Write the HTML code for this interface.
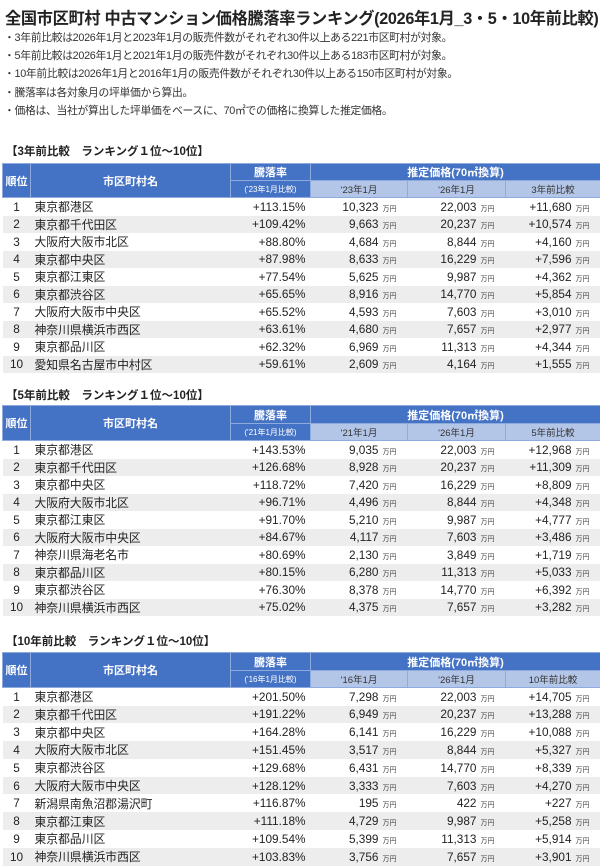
<!DOCTYPE html>
<html><head><meta charset="utf-8"><style>
body{margin:0;width:600px;height:865px;background:#fff;font-family:"Liberation Sans","Noto Sans CJK JP",sans-serif;color:#222;position:relative;overflow:hidden}
.t{position:absolute;left:5px;top:5px;font-size:16.2px;font-weight:bold;white-space:nowrap;letter-spacing:-0.3px}
.n{position:absolute;left:4px;font-size:10.8px;white-space:nowrap;color:#333;letter-spacing:-0.3px}
.l{position:absolute;left:6px;font-size:11.5px;font-weight:bold;white-space:nowrap}
table{position:absolute;left:2px;width:598px;border-collapse:collapse;table-layout:fixed;font-size:11.8px}
th{background:#4472c4;color:#fff;font-weight:bold;border:1px solid #8faadc;padding:0;font-size:11px}
th.s{background:#b4c6e7;color:#333;font-weight:normal;font-size:9.5px}
th.r{font-size:8px;font-weight:normal}
td{padding:0;height:17.5px;white-space:nowrap}
tr.g td{background:#ededed}
td.k{text-align:center}
td.c{padding-left:4px}
td.p{text-align:right;padding-right:5px}
td.v{text-align:right;padding-right:3px}
td.v span{font-size:7px;color:#444;display:inline-block;width:22px;text-align:left;padding-left:4px}
</style></head><body>
<div class="t">全国市区町村 中古マンション価格騰落率ランキング(2026年1月_3・5・10年前比較)</div>
<div class="n" style="top:29px">・3年前比較は2026年1月と2023年1月の販売件数がそれぞれ30件以上ある221市区町村が対象。</div>
<div class="n" style="top:47px">・5年前比較は2026年1月と2021年1月の販売件数がそれぞれ30件以上ある183市区町村が対象。</div>
<div class="n" style="top:65px">・10年前比較は2026年1月と2016年1月の販売件数がそれぞれ30件以上ある150市区町村が対象。</div>
<div class="n" style="top:84px">・騰落率は各対象月の坪単価から算出。</div>
<div class="n" style="top:102px">・価格は、当社が算出した坪単価をベースに、70㎡での価格に換算した推定価格。</div>

<div class="l" style="top:143px">【3年前比較　ランキング１位～10位】</div>
<table style="top:163px">
<colgroup><col style="width:28px"><col style="width:200px"><col style="width:80px"><col style="width:97px"><col style="width:98px"><col style="width:95px"></colgroup>
<tr style="height:17px"><th rowspan="2">順位</th><th rowspan="2">市区町村名</th><th>騰落率</th><th colspan="3">推定価格(70㎡換算)</th></tr>
<tr style="height:17px"><th class="r">('23年1月比較)</th><th class="s">'23年1月</th><th class="s">'26年1月</th><th class="s">3年前比較</th></tr>
<tr><td class="k">1</td><td class="c">東京都港区</td><td class="p">+113.15%</td><td class="v">10,323<span>万円</span></td><td class="v">22,003<span>万円</span></td><td class="v">+11,680<span>万円</span></td></tr>
<tr class="g"><td class="k">2</td><td class="c">東京都千代田区</td><td class="p">+109.42%</td><td class="v">9,663<span>万円</span></td><td class="v">20,237<span>万円</span></td><td class="v">+10,574<span>万円</span></td></tr>
<tr><td class="k">3</td><td class="c">大阪府大阪市北区</td><td class="p">+88.80%</td><td class="v">4,684<span>万円</span></td><td class="v">8,844<span>万円</span></td><td class="v">+4,160<span>万円</span></td></tr>
<tr class="g"><td class="k">4</td><td class="c">東京都中央区</td><td class="p">+87.98%</td><td class="v">8,633<span>万円</span></td><td class="v">16,229<span>万円</span></td><td class="v">+7,596<span>万円</span></td></tr>
<tr><td class="k">5</td><td class="c">東京都江東区</td><td class="p">+77.54%</td><td class="v">5,625<span>万円</span></td><td class="v">9,987<span>万円</span></td><td class="v">+4,362<span>万円</span></td></tr>
<tr class="g"><td class="k">6</td><td class="c">東京都渋谷区</td><td class="p">+65.65%</td><td class="v">8,916<span>万円</span></td><td class="v">14,770<span>万円</span></td><td class="v">+5,854<span>万円</span></td></tr>
<tr><td class="k">7</td><td class="c">大阪府大阪市中央区</td><td class="p">+65.52%</td><td class="v">4,593<span>万円</span></td><td class="v">7,603<span>万円</span></td><td class="v">+3,010<span>万円</span></td></tr>
<tr class="g"><td class="k">8</td><td class="c">神奈川県横浜市西区</td><td class="p">+63.61%</td><td class="v">4,680<span>万円</span></td><td class="v">7,657<span>万円</span></td><td class="v">+2,977<span>万円</span></td></tr>
<tr><td class="k">9</td><td class="c">東京都品川区</td><td class="p">+62.32%</td><td class="v">6,969<span>万円</span></td><td class="v">11,313<span>万円</span></td><td class="v">+4,344<span>万円</span></td></tr>
<tr class="g"><td class="k">10</td><td class="c">愛知県名古屋市中村区</td><td class="p">+59.61%</td><td class="v">2,609<span>万円</span></td><td class="v">4,164<span>万円</span></td><td class="v">+1,555<span>万円</span></td></tr>
</table>

<div class="l" style="top:387px">【5年前比較　ランキング１位～10位】</div>
<table style="top:405px">
<colgroup><col style="width:28px"><col style="width:200px"><col style="width:80px"><col style="width:97px"><col style="width:98px"><col style="width:95px"></colgroup>
<tr style="height:18px"><th rowspan="2">順位</th><th rowspan="2">市区町村名</th><th>騰落率</th><th colspan="3">推定価格(70㎡換算)</th></tr>
<tr style="height:17px"><th class="r">('21年1月比較)</th><th class="s">'21年1月</th><th class="s">'26年1月</th><th class="s">5年前比較</th></tr>
<tr><td class="k">1</td><td class="c">東京都港区</td><td class="p">+143.53%</td><td class="v">9,035<span>万円</span></td><td class="v">22,003<span>万円</span></td><td class="v">+12,968<span>万円</span></td></tr>
<tr class="g"><td class="k">2</td><td class="c">東京都千代田区</td><td class="p">+126.68%</td><td class="v">8,928<span>万円</span></td><td class="v">20,237<span>万円</span></td><td class="v">+11,309<span>万円</span></td></tr>
<tr><td class="k">3</td><td class="c">東京都中央区</td><td class="p">+118.72%</td><td class="v">7,420<span>万円</span></td><td class="v">16,229<span>万円</span></td><td class="v">+8,809<span>万円</span></td></tr>
<tr class="g"><td class="k">4</td><td class="c">大阪府大阪市北区</td><td class="p">+96.71%</td><td class="v">4,496<span>万円</span></td><td class="v">8,844<span>万円</span></td><td class="v">+4,348<span>万円</span></td></tr>
<tr><td class="k">5</td><td class="c">東京都江東区</td><td class="p">+91.70%</td><td class="v">5,210<span>万円</span></td><td class="v">9,987<span>万円</span></td><td class="v">+4,777<span>万円</span></td></tr>
<tr class="g"><td class="k">6</td><td class="c">大阪府大阪市中央区</td><td class="p">+84.67%</td><td class="v">4,117<span>万円</span></td><td class="v">7,603<span>万円</span></td><td class="v">+3,486<span>万円</span></td></tr>
<tr><td class="k">7</td><td class="c">神奈川県海老名市</td><td class="p">+80.69%</td><td class="v">2,130<span>万円</span></td><td class="v">3,849<span>万円</span></td><td class="v">+1,719<span>万円</span></td></tr>
<tr class="g"><td class="k">8</td><td class="c">東京都品川区</td><td class="p">+80.15%</td><td class="v">6,280<span>万円</span></td><td class="v">11,313<span>万円</span></td><td class="v">+5,033<span>万円</span></td></tr>
<tr><td class="k">9</td><td class="c">東京都渋谷区</td><td class="p">+76.30%</td><td class="v">8,378<span>万円</span></td><td class="v">14,770<span>万円</span></td><td class="v">+6,392<span>万円</span></td></tr>
<tr class="g"><td class="k">10</td><td class="c">神奈川県横浜市西区</td><td class="p">+75.02%</td><td class="v">4,375<span>万円</span></td><td class="v">7,657<span>万円</span></td><td class="v">+3,282<span>万円</span></td></tr>
</table>

<div class="l" style="top:633px">【10年前比較　ランキング１位～10位】</div>
<table style="top:652px">
<colgroup><col style="width:28px"><col style="width:200px"><col style="width:80px"><col style="width:97px"><col style="width:98px"><col style="width:95px"></colgroup>
<tr style="height:18px"><th rowspan="2">順位</th><th rowspan="2">市区町村名</th><th>騰落率</th><th colspan="3">推定価格(70㎡換算)</th></tr>
<tr style="height:17px"><th class="r">('16年1月比較)</th><th class="s">'16年1月</th><th class="s">'26年1月</th><th class="s">10年前比較</th></tr>
<tr style="height:17.8px"><td class="k">1</td><td class="c">東京都港区</td><td class="p">+201.50%</td><td class="v">7,298<span>万円</span></td><td class="v">22,003<span>万円</span></td><td class="v">+14,705<span>万円</span></td></tr>
<tr class="g" style="height:17.8px"><td class="k">2</td><td class="c">東京都千代田区</td><td class="p">+191.22%</td><td class="v">6,949<span>万円</span></td><td class="v">20,237<span>万円</span></td><td class="v">+13,288<span>万円</span></td></tr>
<tr style="height:17.8px"><td class="k">3</td><td class="c">東京都中央区</td><td class="p">+164.28%</td><td class="v">6,141<span>万円</span></td><td class="v">16,229<span>万円</span></td><td class="v">+10,088<span>万円</span></td></tr>
<tr class="g" style="height:17.8px"><td class="k">4</td><td class="c">大阪府大阪市北区</td><td class="p">+151.45%</td><td class="v">3,517<span>万円</span></td><td class="v">8,844<span>万円</span></td><td class="v">+5,327<span>万円</span></td></tr>
<tr style="height:17.8px"><td class="k">5</td><td class="c">東京都渋谷区</td><td class="p">+129.68%</td><td class="v">6,431<span>万円</span></td><td class="v">14,770<span>万円</span></td><td class="v">+8,339<span>万円</span></td></tr>
<tr class="g" style="height:17.8px"><td class="k">6</td><td class="c">大阪府大阪市中央区</td><td class="p">+128.12%</td><td class="v">3,333<span>万円</span></td><td class="v">7,603<span>万円</span></td><td class="v">+4,270<span>万円</span></td></tr>
<tr style="height:17.8px"><td class="k">7</td><td class="c">新潟県南魚沼郡湯沢町</td><td class="p">+116.87%</td><td class="v">195<span>万円</span></td><td class="v">422<span>万円</span></td><td class="v">+227<span>万円</span></td></tr>
<tr class="g" style="height:17.8px"><td class="k">8</td><td class="c">東京都江東区</td><td class="p">+111.18%</td><td class="v">4,729<span>万円</span></td><td class="v">9,987<span>万円</span></td><td class="v">+5,258<span>万円</span></td></tr>
<tr style="height:17.8px"><td class="k">9</td><td class="c">東京都品川区</td><td class="p">+109.54%</td><td class="v">5,399<span>万円</span></td><td class="v">11,313<span>万円</span></td><td class="v">+5,914<span>万円</span></td></tr>
<tr class="g" style="height:17.8px"><td class="k">10</td><td class="c">神奈川県横浜市西区</td><td class="p">+103.83%</td><td class="v">3,756<span>万円</span></td><td class="v">7,657<span>万円</span></td><td class="v">+3,901<span>万円</span></td></tr>
</table>
</body></html>
